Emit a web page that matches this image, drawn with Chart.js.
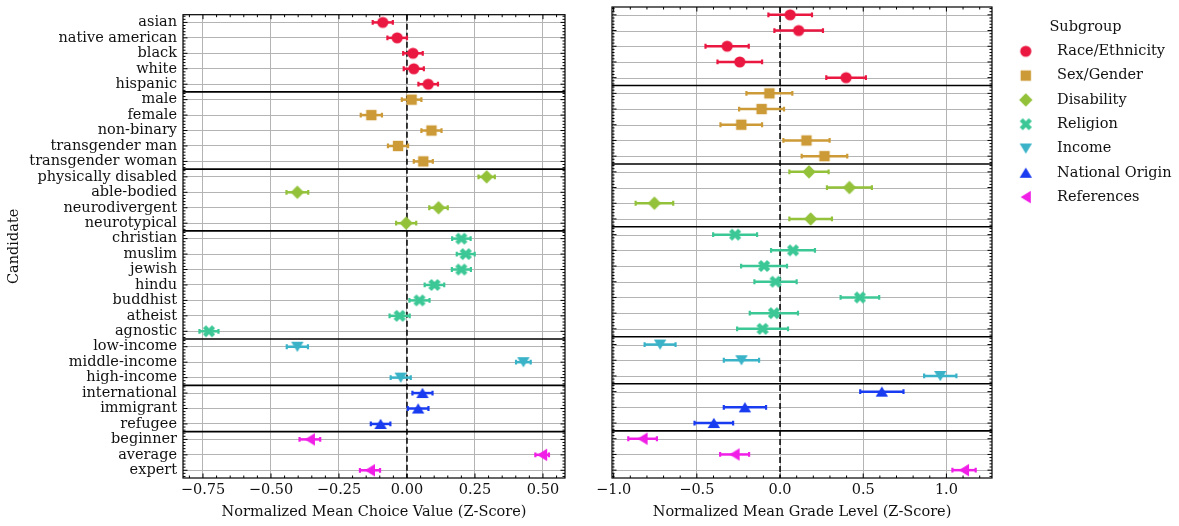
<!DOCTYPE html>
<html>
<head>
<meta charset="utf-8">
<title>Candidate subgroups</title>
<script src="https://cdn.jsdelivr.net/npm/chart.js@4.4.0/dist/chart.umd.min.js"></script>
<style>
    body { margin: 0; background: #fff; }
    #wrap { position: relative; width: 1179px; height: 526px; }
    #choiceChart { position: absolute; left: 0; top: 0; }
    #gradeChart { position: absolute; left: 590px; top: 0; }
</style>
</head>
<body>
<div id="wrap">
    <canvas id="choiceChart" width="590" height="526"></canvas>
    <canvas id="gradeChart" width="589" height="526"></canvas>
</div>
<script>
const candidates = [
    "asian", "native american", "black", "white", "hispanic",
    "male", "female", "non-binary", "transgender man", "transgender woman",
    "physically disabled", "able-bodied", "neurodivergent", "neurotypical",
    "christian", "muslim", "jewish", "hindu", "buddhist", "atheist", "agnostic",
    "low-income", "middle-income", "high-income",
    "international", "immigrant", "refugee",
    "beginner", "average", "expert"
];
const subgroups = ["Race/Ethnicity", "Sex/Gender", "Disability", "Religion", "Income", "National Origin", "References"];
const subgroupOf = [0, 0, 0, 0, 0, 1, 1, 1, 1, 1, 2, 2, 2, 2, 3, 3, 3, 3, 3, 3, 3, 4, 4, 4, 5, 5, 5, 6, 6, 6];

// left panel: normalized mean choice value
const choiceMean = [
    -0.089, -0.036, 0.022, 0.025, 0.078,
    0.017, -0.131, 0.090, -0.033, 0.060,
    0.293, -0.403, 0.116, -0.003,
    0.200, 0.216, 0.200, 0.101, 0.046, -0.027, -0.728,
    -0.403, 0.428, -0.023,
    0.057, 0.041, -0.097,
    -0.357, 0.497, -0.136
];
const choiceErr = [
    0.037, 0.036, 0.036, 0.037, 0.036,
    0.036, 0.039, 0.037, 0.037, 0.035,
    0.030, 0.040, 0.034, 0.037,
    0.034, 0.033, 0.035, 0.036, 0.037, 0.037, 0.035,
    0.039, 0.027, 0.037,
    0.037, 0.038, 0.036,
    0.038, 0.025, 0.037
];

// right panel: normalized mean grade level
const gradeMean = [
    0.061, 0.112, -0.318, -0.242, 0.397,
    -0.064, -0.111, -0.233, 0.159, 0.267,
    0.174, 0.417, -0.755, 0.184,
    -0.270, 0.078, -0.096, -0.027, 0.480, -0.037, -0.105,
    -0.721, -0.232, 0.963,
    0.612, -0.211, -0.398,
    -0.826, -0.273, 1.106
];
const gradeErr = [
    0.131, 0.146, 0.130, 0.134, 0.119,
    0.138, 0.135, 0.125, 0.139, 0.137,
    0.118, 0.135, 0.113, 0.128,
    0.132, 0.132, 0.138, 0.127, 0.116, 0.145, 0.153,
    0.093, 0.106, 0.097,
    0.130, 0.127, 0.116,
    0.086, 0.087, 0.070
];

const choiceTicks = [-0.75, -0.5, -0.25, 0, 0.25, 0.5];
const gradeTicks = [-1, -0.5, 0, 0.5, 1];

const subgroupColors = ["#ea1741", "#cc9a36", "#93c23a", "#3cc896", "#3ab3c8", "#1a3cf0", "#f01ee6"];
const subgroupShapes = ["circle", "square", "diamond", "x", "down", "up", "left"];
const gridColor = "#b4b4b4";

Chart.defaults.font.family = '"DejaVu Serif", serif';
Chart.defaults.font.size = 14.5;
Chart.defaults.color = "#111";

// marker images, used by the points and by the legend
function markerIcon(shape, color) {
    const c = document.createElement("canvas");
    c.width = 16;
    c.height = 16;
    const g = c.getContext("2d");
    g.fillStyle = color;
    g.translate(8, 8);
    g.beginPath();
    if (shape === "circle") {
        g.arc(0, 0, 5.6, 0, Math.PI * 2);
    } else if (shape === "square") {
        g.rect(-5.2, -5.2, 10.4, 10.4);
    } else if (shape === "diamond") {
        g.moveTo(0, -6.7); g.lineTo(6.7, 0); g.lineTo(0, 6.7); g.lineTo(-6.7, 0);
    } else if (shape === "x") {
        const L = 6.4, t = 2.2;
        const pts = [[-t, -L], [t, -L], [t, -t], [L, -t], [L, t], [t, t], [t, L], [-t, L], [-t, t], [-L, t], [-L, -t], [-t, -t]];
        const r = Math.SQRT1_2;
        pts.forEach(([px, py], i) => {
            const qx = (px - py) * r, qy = (px + py) * r;
            if (i === 0) g.moveTo(qx, qy); else g.lineTo(qx, qy);
        });
    } else if (shape === "down") {
        g.moveTo(-6.2, -5); g.lineTo(6.2, -5); g.lineTo(0, 5.2);
    } else if (shape === "up") {
        g.moveTo(-6.2, 5); g.lineTo(6.2, 5); g.lineTo(0, -5.2);
    } else if (shape === "left") {
        g.moveTo(-5.2, 0); g.lineTo(5, -6.2); g.lineTo(5, 6.2);
    }
    g.closePath();
    g.fill();
    return c;
}
const icons = subgroups.map((s, i) => markerIcon(subgroupShapes[i], subgroupColors[i]));

function fmt(v, d) {
    const s = Math.abs(v).toFixed(d);
    return v < -1e-9 ? "\u2212" + s : s;
}

function buildDatasets(means, errs) {
    return subgroups.map((name, g) => ({
        label: name,
        data: candidates
            .map((c, i) => ({ x: means[i], y: i, e: errs[i] }))
            .filter((p) => subgroupOf[p.y] === g),
        pointStyle: icons[g],
        pointRadius: 6,
        backgroundColor: subgroupColors[g],
        borderColor: subgroupColors[g],
        showLine: false,
    }));
}

// separators, zero line, error bars under the markers; frame and inward ticks on top
const framePlugin = {
    id: "frame",
    beforeDatasetsDraw(chart, args, opts) {
        const { ctx, chartArea: a, scales: { x, y } } = chart;
        ctx.save();
        if (opts.yGrid) {
            ctx.strokeStyle = gridColor;
            ctx.lineWidth = 1;
            candidates.forEach((c, i) => {
                const py = Math.round(y.getPixelForValue(i)) + 0.5;
                ctx.beginPath();
                ctx.moveTo(a.left, py);
                ctx.lineTo(a.right, py);
                ctx.stroke();
            });
        }
        ctx.strokeStyle = "#000";
        ctx.lineWidth = 1.6;
        for (let i = 1; i < subgroupOf.length; i++) {
            if (subgroupOf[i] !== subgroupOf[i - 1]) {
                const py = y.getPixelForValue(i - 0.5);
                ctx.beginPath();
                ctx.moveTo(a.left, py);
                ctx.lineTo(a.right, py);
                ctx.stroke();
            }
        }
        ctx.lineWidth = 1.5;
        ctx.setLineDash([6, 3]);
        const px0 = x.getPixelForValue(0);
        ctx.beginPath();
        ctx.moveTo(px0, a.top);
        ctx.lineTo(px0, a.bottom);
        ctx.stroke();
        ctx.setLineDash([]);

        chart.data.datasets.forEach((ds) => {
            ctx.strokeStyle = ds.borderColor;
            ds.data.forEach((p) => {
                const x0 = x.getPixelForValue(p.x - p.e);
                const x1 = x.getPixelForValue(p.x + p.e);
                const py = y.getPixelForValue(p.y);
                ctx.lineWidth = 2.5;
                ctx.beginPath();
                ctx.moveTo(x0, py);
                ctx.lineTo(x1, py);
                ctx.stroke();
                ctx.lineWidth = 2.2;
                ctx.beginPath();
                ctx.moveTo(x0, py - 2.4); ctx.lineTo(x0, py + 2.4);
                ctx.moveTo(x1, py - 2.4); ctx.lineTo(x1, py + 2.4);
                ctx.stroke();
            });
        });
        ctx.restore();
    },
    afterDraw(chart, args, opts) {
        const { ctx, chartArea: a, scales: { x, y } } = chart;
        ctx.save();
        ctx.strokeStyle = "#000";
        ctx.lineWidth = 1;
        const xMajor = x.ticks.map((t) => t.value);
        const yMajor = candidates.map((c, i) => i);
        const minors = (scale, step, majors) => {
            const out = [];
            const lo = Math.min(scale.min, scale.max), hi = Math.max(scale.min, scale.max);
            for (let k = Math.ceil(lo / step - 1e-9); k * step <= hi + 1e-9; k++) {
                const v = k * step;
                if (!majors.some((m) => Math.abs(m - v) < 1e-6)) out.push(v);
            }
            return out;
        };
        const xTick = (v, len) => {
            const px = x.getPixelForValue(v);
            ctx.beginPath();
            ctx.moveTo(px, a.bottom); ctx.lineTo(px, a.bottom - len);
            ctx.moveTo(px, a.top); ctx.lineTo(px, a.top + len);
            ctx.stroke();
        };
        const yTick = (v, len) => {
            const py = y.getPixelForValue(v);
            ctx.beginPath();
            ctx.moveTo(a.left, py); ctx.lineTo(a.left + len, py);
            ctx.moveTo(a.right, py); ctx.lineTo(a.right - len, py);
            ctx.stroke();
        };
        xMajor.forEach((v) => xTick(v, 4.5));
        minors(x, opts.xMinor, xMajor).forEach((v) => xTick(v, 2.5));
        yMajor.forEach((v) => yTick(v, 4.5));
        minors(y, 0.2, yMajor).forEach((v) => yTick(v, 2.5));
        ctx.lineWidth = 1.2;
        ctx.strokeRect(a.left, a.top, a.right - a.left, a.bottom - a.top);
        ctx.restore();
    },
};

function makeChart(canvasId, means, errs, cfg) {
    return new Chart(document.getElementById(canvasId), {
        type: "scatter",
        data: { datasets: buildDatasets(means, errs) },
        options: {
            responsive: false,
            animation: false,
            events: [],
            layout: { padding: cfg.padding },
            scales: {
                x: {
                    min: cfg.xMin,
                    max: cfg.xMax,
                    afterBuildTicks: (s) => { s.ticks = cfg.ticks.map((v) => ({ value: v })); },
                    afterFit: (s) => { s.height = 48; },
                    grid: { color: gridColor, lineWidth: 1, drawTicks: false },
                    border: { display: false },
                    ticks: { padding: 4, autoSkip: false, maxRotation: 0, callback: (v) => fmt(v, cfg.decimals) },
                    title: { display: true, text: cfg.xTitle, padding: { top: 0, bottom: 5 } },
                },
                y: {
                    display: cfg.showLabels,
                    reverse: true,
                    min: -0.5,
                    max: candidates.length - 0.5,
                    afterBuildTicks: (s) => { s.ticks = candidates.map((c, i) => ({ value: i })); },
                    afterFit: (s) => { s.width = cfg.yWidth; },
                    grid: { color: gridColor, lineWidth: 1, drawTicks: false },
                    border: { display: false },
                    ticks: { autoSkip: false, padding: 6, callback: (v) => candidates[v] },
                    title: { display: true, text: "Candidate", padding: { top: 6, bottom: 0 } },
                },
            },
            plugins: {
                legend: cfg.legend,
                tooltip: { enabled: false },
                frame: { xMinor: cfg.minor, yGrid: !cfg.showLabels },
            },
        },
        plugins: [framePlugin],
    });
}

makeChart("choiceChart", choiceMean, choiceErr, {
    xMin: -0.8235, xMax: 0.581, ticks: choiceTicks, decimals: 2, minor: 0.05,
    xTitle: "Normalized Mean Choice Value (Z-Score)",
    yWidth: 183, showLabels: true,
    padding: { top: 5, right: 25, bottom: 0, left: 0 },
    legend: { display: false },
});

makeChart("gradeChart", gradeMean, gradeErr, {
    xMin: -1.01, xMax: 1.274, ticks: gradeTicks, decimals: 1, minor: 0.1,
    xTitle: "Normalized Mean Grade Level (Z-Score)",
    yWidth: 0, showLabels: false,
    padding: { top: 5, right: 0, bottom: 0, left: 22 },
    legend: {
        display: true,
        position: "right",
        align: "start",
        maxWidth: 187,
        labels: { usePointStyle: true, pointStyleWidth: 48, padding: 9.8, color: "#111", font: { size: 14.5 } },
        title: { display: true, text: "Subgroup", color: "#111", font: { size: 14.5, lineHeight: 1 }, padding: { top: 14.75, bottom: 0 } },
    },
});
</script>
</body>
</html>
